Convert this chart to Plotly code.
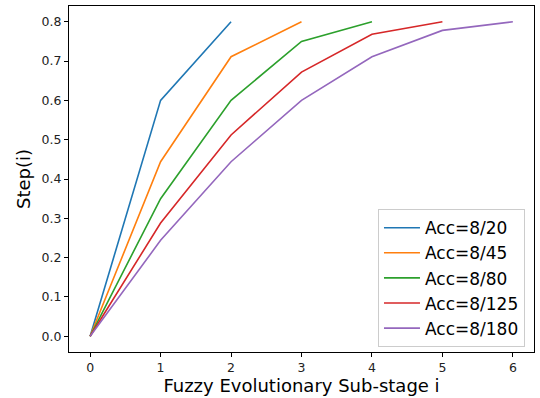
import plotly.graph_objects as go

names = ["Acc=8/20", "Acc=8/45", "Acc=8/80", "Acc=8/125", "Acc=8/180"]
y_20 = [0.0, 0.6, 0.8]
y_45 = [0.0, 0.444, 0.711, 0.8]
y_80 = [0.0, 0.35, 0.6, 0.75, 0.8]
y_125 = [0.0, 0.288, 0.512, 0.672, 0.768, 0.8]
y_180 = [0.0, 0.244, 0.444, 0.6, 0.711, 0.778, 0.8]
series = [y_20, y_45, y_80, y_125, y_180]
colors = ["#1f77b4", "#ff7f0e", "#2ca02c", "#d62728", "#9467bd"]

fig = go.Figure()
for name, ys, c in zip(names, series, colors):
    fig.add_trace(go.Scatter(x=list(range(len(ys))), y=ys, mode="lines", name=name,
                             line=dict(color=c, width=1.6)))

axis_common = dict(showline=True, linecolor="black", linewidth=1, mirror=True,
                   ticks="outside", ticklen=4, tickcolor="black", showgrid=False,
                   zeroline=False, tickfont=dict(family="DejaVu Sans", size=12.5, color="#222"))
fig.update_xaxes(range=[-0.3, 6.3], tickvals=[0, 1, 2, 3, 4, 5, 6],
                 title=dict(text="Fuzzy Evolutionary Sub-stage i", font=dict(family="DejaVu Sans", size=18, color="black"), standoff=5),
                 automargin=False, **axis_common)
fig.update_yaxes(range=[-0.04, 0.84], tickvals=[0, 0.1, 0.2, 0.3, 0.4, 0.5, 0.6, 0.7, 0.8],
                 tickformat=".1f",
                 title=dict(text="Step(i)", font=dict(family="DejaVu Sans", size=18, color="black"), standoff=6),
                 automargin=False, **axis_common)
fig.update_layout(width=540, height=398, margin=dict(l=69, r=6, t=6, b=46),
                  plot_bgcolor="white", paper_bgcolor="white",
                  legend=dict(x=0.9806, y=0.014, xanchor="right", yanchor="bottom",
                              bgcolor="rgba(255,255,255,0.8)", bordercolor="#cccccc", borderwidth=1,
                              font=dict(family="DejaVu Sans", size=17, color="black"),
                              itemwidth=36, tracegroupgap=0))
fig.write_html("out.html")
